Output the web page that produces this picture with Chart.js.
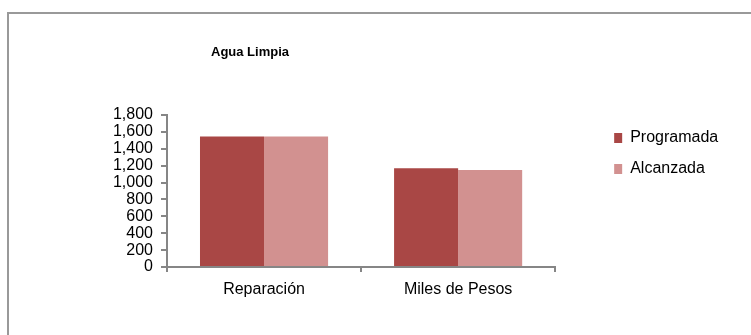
<!DOCTYPE html>
<html>
<head>
<meta charset="utf-8">
<script src="https://cdn.jsdelivr.net/npm/chart.js@4"></script>
<style>
  body { margin: 0; background: #fff; overflow: hidden; }
  #frame { position: absolute; left: 7px; top: 12px; width: 800px; height: 400px;
           border-left: 2px solid #999; border-top: 2px solid #999; }
  #wrap { position: absolute; left: 0; top: 0; width: 751px; height: 335px; }
</style>
</head>
<body>
<div id="frame"></div>
<div id="wrap"><canvas id="chart" width="751" height="335"></canvas></div>
<script>
// --- DATA ---
const chartTitle = "Agua Limpia";
const categories = ["Reparación", "Miles de Pesos"];
const programada = [1545, 1168];
const alcanzada = [1545, 1148];
const seriesNames = ["Programada", "Alcanzada"];
const yMin = 0, yMax = 1800, yStep = 200;

const FONT = "'Liberation Sans', Arial, sans-serif";
const axisGray = '#868686';

// title sits left of the plot centre in the original, so draw it by hand
const titlePlugin = {
    id: 'manualTitle',
    afterDraw(chart) {
        const ctx = chart.ctx;
        ctx.save();
        ctx.font = "bold 13px " + FONT;
        ctx.fillStyle = '#000';
        ctx.textAlign = 'center';
        ctx.textBaseline = 'middle';
        ctx.fillText(chartTitle, 250, 52);
        ctx.restore();
    }
};

new Chart(document.getElementById('chart'), {
    type: 'bar',
    data: {
        labels: categories,
        datasets: [
            { label: seriesNames[0], data: programada, backgroundColor: '#A94745' },
            { label: seriesNames[1], data: alcanzada, backgroundColor: '#D29190' }
        ]
    },
    options: {
        responsive: false,
        animation: false,
        layout: { padding: { left: 0, top: 115, right: 32, bottom: 30 } },
        datasets: { bar: { categoryPercentage: 0.66, barPercentage: 1.0 } },
        plugins: {
            title: { display: false },
            tooltip: { enabled: false },
            legend: {
                position: 'right',
                align: 'start',
                labels: {
                    boxWidth: 8, boxHeight: 10, padding: 15,
                    color: '#000',
                    font: { family: FONT, size: 16 }
                }
            }
        },
        scales: {
            x: {
                grid: { display: true, drawOnChartArea: false, offset: true, color: axisGray, tickLength: 5, lineWidth: 2 },
                border: { display: true, color: axisGray, width: 2 },
                ticks: { color: '#000', padding: 8, font: { family: FONT, size: 16 } },
                afterFit: s => { s.height = 38; }
            },
            y: {
                min: yMin, max: yMax,
                grid: { display: true, drawOnChartArea: false, color: axisGray, tickLength: 6, lineWidth: 2 },
                border: { display: true, color: axisGray, width: 2 },
                ticks: {
                    stepSize: yStep, autoSkip: false, color: '#000', padding: 8,
                    font: { family: FONT, size: 16 },
                    callback: v => v.toLocaleString('en-US')
                },
                afterFit: s => { s.width = 167; }
            },
            y2: {
                position: 'right',
                display: true,
                grid: { display: false },
                border: { display: false },
                ticks: { display: false },
                afterFit: s => { s.width = 44; }
            }
        }
    },
    plugins: [titlePlugin]
});
</script>
</body>
</html>
